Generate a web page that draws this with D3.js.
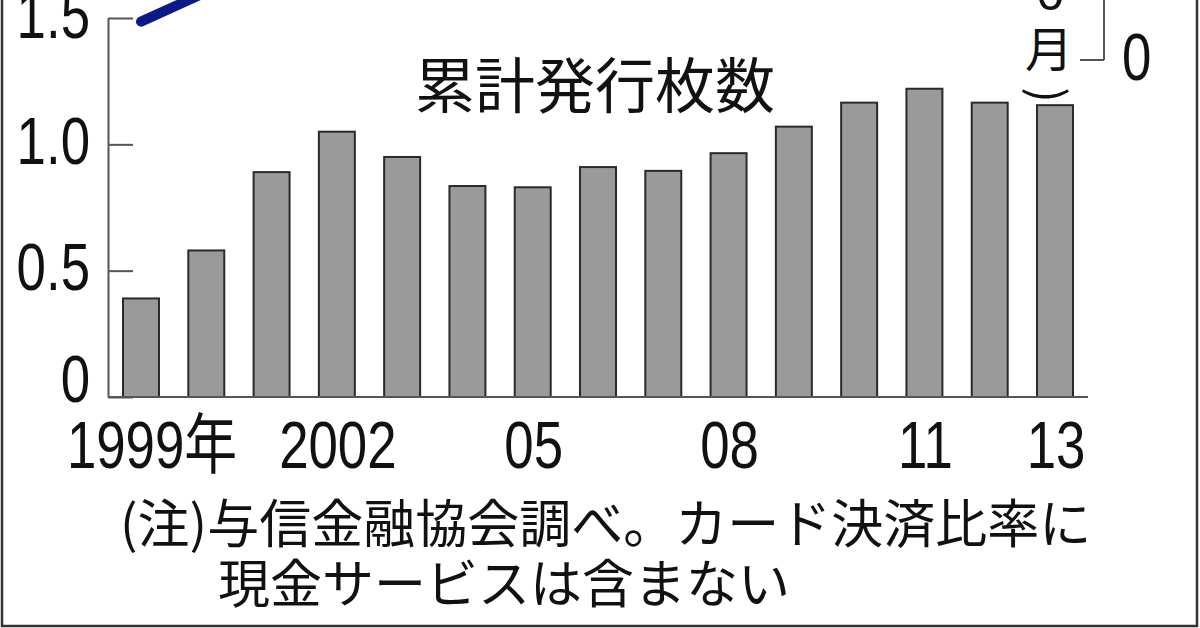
<!DOCTYPE html>
<html>
<head>
<meta charset="utf-8">
<script src="https://cdn.jsdelivr.net/npm/d3@7"></script>
<style>
  body { margin: 0; background: #fff; }
  svg { display: block; }
</style>
</head>
<body>
<div id="chart"></div>
<script>
var years = ["1999","2000","2001","2002","2003","2004","2005","2006","2007","2008","2009","2010","2011","2012","2013"];
// 累計発行枚数 (億枚)
var issued = [0.39, 0.58, 0.89, 1.05, 0.95, 0.835, 0.83, 0.91, 0.895, 0.965, 1.07, 1.165, 1.22, 1.165, 1.155];
// カード決済比率 (%), 右軸
var cardRatio = [7.6, 8.45, 9.1, 9.8, 10.4, 11.0, 11.7, 12.4, 12.9, 13.6, 14.2, 14.8, 15.6, 16.4, 17.0];
var yTicks = [0, 0.5, 1.0, 1.5];
var rTicks = [6.5];
var xLabels = {"1999": "1999年", "2002": "2002", "2005": "05", "2008": "08", "2011": "11", "2013": "13"};

var width = 1200, height = 628;
var numFont = "'Liberation Sans', Arial, 'Noto Sans CJK JP', sans-serif";
var jpFont = "'Noto Sans CJK JP', 'Noto Sans', sans-serif";

var svg = d3.select("#chart").append("svg")
  .attr("width", width)
  .attr("height", height);

var x = d3.scaleBand().domain(years).range([108, 1088])
  .paddingInner(0.449).paddingOuter(0.23);
var y = d3.scaleLinear().domain([0, 1.5]).range([397, 18]);
var r = d3.scaleLinear().domain([6.5, 10]).range([60, -62]);

// outer frame (top is cropped)
svg.append("path")
  .attr("d", "M2,0V626H1197V0")
  .attr("fill", "none")
  .attr("stroke", "#333")
  .attr("stroke-width", 2.5);

// bars
svg.selectAll(".bar")
  .data(issued)
  .enter().append("rect")
  .attr("class", "bar")
  .attr("x", function(d, i) { return x(years[i]); })
  .attr("width", x.bandwidth())
  .attr("y", function(d) { return y(d); })
  .attr("height", function(d) { return y(0) - y(d); })
  .attr("fill", "#9a9a9a")
  .attr("stroke", "#2a2a2a")
  .attr("stroke-width", 2);

// left axis
var yAxis = svg.append("g")
  .attr("transform", "translate(108,0)")
  .call(d3.axisLeft(y).tickValues(yTicks).tickSizeInner(-25).tickSizeOuter(0).tickPadding(18)
    .tickFormat(function(d) { return d === 0 ? "0" : d3.format(".1f")(d); }));
yAxis.selectAll("path, line").attr("stroke", "#555").attr("stroke-width", 2);
yAxis.selectAll("text")
  .attr("x", null).attr("dy", null)
  .attr("transform", function(d) { return "translate(-18," + (d === 0 ? 4 : 19) + ") scale(0.8,1)"; })
  .attr("fill", "#111")
  .style("font-family", numFont)
  .style("font-size", "66px");

// baseline
svg.append("line")
  .attr("x1", x.range()[0]).attr("x2", x.range()[1])
  .attr("y1", y(0)).attr("y2", y(0))
  .attr("stroke", "#555").attr("stroke-width", 2);

// x labels
svg.selectAll(".xl")
  .data(years.filter(function(d) { return xLabels[d]; }))
  .enter().append("text")
  .attr("class", "xl")
  .attr("text-anchor", "middle")
  .attr("transform", function(d) {
    var cx = x(d) + x.bandwidth() / 2 + (d === "1999" ? 11 : 1);
    return "translate(" + cx + ",468) scale(0.8,1)";
  })
  .attr("fill", "#111")
  .style("font-family", numFont)
  .style("font-size", "66px")
  .text(function(d) { return xLabels[d]; });

// right axis (broken, only the bottom visible)
var rAxis = svg.append("g").attr("transform", "translate(1104,0)");
rAxis.append("line")
  .attr("x1", 0).attr("x2", 0).attr("y1", 0).attr("y2", r(rTicks[0]))
  .attr("stroke", "#555").attr("stroke-width", 2);
rAxis.selectAll(".rt").data(rTicks).enter().append("line")
  .attr("x1", -24).attr("x2", 0)
  .attr("y1", function(d) { return r(d); }).attr("y2", function(d) { return r(d); })
  .attr("stroke", "#555").attr("stroke-width", 2);
rAxis.selectAll(".rl").data(rTicks).enter().append("text")
  .attr("transform", function(d) { return "translate(18," + (r(d) + 20) + ") scale(0.8,1)"; })
  .attr("fill", "#111")
  .style("font-family", numFont)
  .style("font-size", "66px")
  .text("0");

// card payment ratio line
var line = d3.line()
  .x(function(d, i) { return x(years[i]) + x.bandwidth() / 2; })
  .y(function(d) { return r(d); });
svg.append("path")
  .datum(cardRatio)
  .attr("d", line)
  .attr("fill", "none")
  .attr("stroke", "#0c1a88")
  .attr("stroke-width", 10)
  .attr("stroke-linecap", "round")
  .attr("stroke-linejoin", "round");

// vertical date label (13年6月)
var vl = svg.append("g").style("font-family", jpFont).attr("fill", "#111");
vl.append("text").attr("x", 1050).attr("y", 10).attr("text-anchor", "middle")
  .style("font-family", numFont).style("font-size", "50px").text("6");
vl.append("text").attr("x", 1049).attr("y", 46).attr("text-anchor", "middle")
  .attr("dominant-baseline", "central").style("font-size", "48px").text("月");
vl.append("text")
  .attr("transform", "translate(1051,95) rotate(90)")
  .attr("text-anchor", "middle")
  .attr("dominant-baseline", "central")
  .style("font-size", "46px")
  .text(")");

// title
svg.append("text")
  .attr("x", 595).attr("y", 81)
  .attr("text-anchor", "middle")
  .attr("dominant-baseline", "central")
  .attr("fill", "#111")
  .style("font-family", jpFont)
  .style("font-size", "60px")
  .text("累計発行枚数");

// note
svg.append("text")
  .attr("x", 120).attr("y", 520)
  .attr("dominant-baseline", "central")
  .attr("fill", "#111")
  .style("font-family", jpFont)
  .style("font-size", "52px")
  .text("(注)与信金融協会調べ。カード決済比率に");
svg.append("text")
  .attr("x", 218).attr("y", 580)
  .attr("dominant-baseline", "central")
  .attr("fill", "#111")
  .style("font-family", jpFont)
  .style("font-size", "52px")
  .text("現金サービスは含まない");
</script>
</body>
</html>
